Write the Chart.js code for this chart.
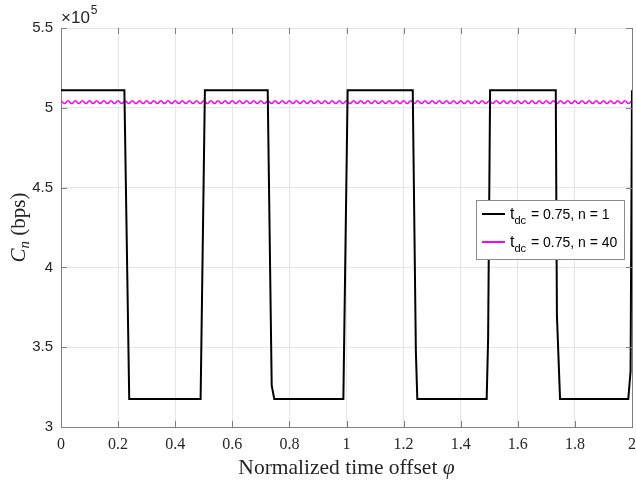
<!DOCTYPE html>
<html>
<head>
<meta charset="utf-8">
<script src="https://cdn.jsdelivr.net/npm/chart.js@4.4.0/dist/chart.umd.min.js"></script>
<style>
  html, body { margin: 0; padding: 0; background: #fff; }
  #wrap { width: 636px; height: 484px; position: relative; }
</style>
</head>
<body>
<div id="wrap"><canvas id="c"></canvas></div>
<script>
// capacity Cn vs normalized time offset phi
const blackPhi = [0, 0.222, 0.239, 0.489, 0.504, 0.724, 0.738, 0.747, 0.989, 1.004,
    1.232, 1.243, 1.248, 1.491, 1.496, 1.503, 1.733, 1.737, 1.748, 1.987, 1.995, 2.0];
const blackRate = [511000, 511000, 317500, 317500, 511000, 511000, 326000, 317500, 317500, 511000,
    511000, 347000, 317500, 317500, 355000, 511000, 511000, 370000, 317500, 317500, 335000, 511000];

// n = 40 curve, sampled at its peaks and troughs
const magentaStep = 0.0125;
const magentaRate = [
    504400, 502700, 504400, 502700, 504400, 502700, 504400, 502700, 504400, 502700,
    504400, 502700, 504400, 502700, 504400, 502700, 504400, 502700, 504400, 502700,
    504400, 502700, 504400, 502700, 504400, 502700, 504400, 502700, 504400, 502700,
    504400, 502700, 504400, 502700, 504400, 502700, 504400, 502700, 504400, 502700,
    504400, 502700, 504400, 502700, 504400, 502700, 504400, 502700, 504400, 502700,
    504400, 502700, 504400, 502700, 504400, 502700, 504400, 502700, 504400, 502700,
    504400, 502700, 504400, 502700, 504400, 502700, 504400, 502700, 504400, 502700,
    504400, 502700, 504400, 502700, 504400, 502700, 504400, 502700, 504400, 502700,
    504400, 502700, 504400, 502700, 504400, 502700, 504400, 502700, 504400, 502700,
    504400, 502700, 504400, 502700, 504400, 502700, 504400, 502700, 504400, 502700,
    504400, 502700, 504400, 502700, 504400, 502700, 504400, 502700, 504400, 502700,
    504400, 502700, 504400, 502700, 504400, 502700, 504400, 502700, 504400, 502700,
    504400, 502700, 504400, 502700, 504400, 502700, 504400, 502700, 504400, 502700,
    504400, 502700, 504400, 502700, 504400, 502700, 504400, 502700, 504400, 502700,
    504400, 502700, 504400, 502700, 504400, 502700, 504400, 502700, 504400, 502700,
    504400, 502700, 504400, 502700, 504400, 502700, 504400, 502700, 504400, 502700,
    504400
];

const legendLabels = [['t', 'dc', ' = 0.75, n = 1'], ['t', 'dc', ' = 0.75, n = 40']];
const xTitle = 'Normalized time offset ';
const yTitle = ['C', 'n', ' (bps)'];

const blackPts = blackPhi.map((p, i) => ({ x: p, y: blackRate[i] }));
const magentaPts = magentaRate.map((v, i) => ({ x: i * magentaStep, y: v }));

const axisGrey = '#7f7f7f';
const textDark = '#262626';
const serif = '"Liberation Serif", "DejaVu Serif", serif';
const sans = '"Liberation Sans", Arial, sans-serif';

// inner tick marks, right border, axis exponent, titles and legend
const decorations = {
    id: 'decorations',
    afterDraw(chart) {
        const ctx = chart.ctx;
        const a = chart.chartArea;
        const xs = chart.scales.x, ys = chart.scales.y;
        ctx.save();
        ctx.strokeStyle = axisGrey;
        ctx.lineWidth = 1;
        ctx.beginPath();
        ctx.moveTo(a.right + 0.5, a.top);
        ctx.lineTo(a.right + 0.5, a.bottom);
        xs.ticks.forEach(t => {
            const px = Math.round(xs.getPixelForValue(t.value)) + 0.5;
            ctx.moveTo(px, a.bottom); ctx.lineTo(px, a.bottom - 6);
            ctx.moveTo(px, a.top); ctx.lineTo(px, a.top + 6);
        });
        ys.ticks.forEach(t => {
            const py = Math.round(ys.getPixelForValue(t.value)) + 0.5;
            ctx.moveTo(a.left, py); ctx.lineTo(a.left + 6, py);
            ctx.moveTo(a.right, py); ctx.lineTo(a.right - 6, py);
        });
        ctx.stroke();

        // x10^5
        ctx.fillStyle = textDark;
        ctx.textBaseline = 'alphabetic';
        ctx.textAlign = 'left';
        ctx.font = '17px ' + sans;
        ctx.fillText('\u00d710', a.left, 23);
        const w10 = ctx.measureText('\u00d710').width;
        ctx.font = '12px ' + sans;
        ctx.fillText('5', a.left + w10 + 1, 14);

        // x title
        ctx.font = '21.5px ' + serif;
        const wx = ctx.measureText(xTitle).width;
        ctx.font = 'italic 21.5px ' + serif;
        const wphi = ctx.measureText('\u03c6').width;
        const sx = (a.left + a.right) / 2 - (wx + wphi) / 2;
        ctx.font = '21.5px ' + serif;
        ctx.fillText(xTitle, sx, 474);
        ctx.font = 'italic 21.5px ' + serif;
        ctx.fillText('\u03c6', sx + wx, 474);

        // y title
        ctx.save();
        ctx.translate(25, (a.top + a.bottom) / 2);
        ctx.rotate(-Math.PI / 2);
        ctx.font = 'italic 21px ' + serif;
        const wC = ctx.measureText(yTitle[0]).width;
        ctx.font = 'italic 15px ' + serif;
        const wn = ctx.measureText(yTitle[1]).width;
        ctx.font = '21px ' + serif;
        const wb = ctx.measureText(yTitle[2]).width;
        const ty = -(wC + wn + wb) / 2;
        ctx.font = 'italic 21px ' + serif;
        ctx.fillText(yTitle[0], ty, 0);
        ctx.font = 'italic 15px ' + serif;
        ctx.fillText(yTitle[1], ty + wC, 4);
        ctx.font = '21px ' + serif;
        ctx.fillText(yTitle[2], ty + wC + wn, 0);
        ctx.restore();

        // legend
        const bx = 476.5, by = 200.5, bw = 148, bh = 59;
        ctx.fillStyle = '#fff';
        ctx.fillRect(bx, by, bw, bh);
        ctx.strokeStyle = '#8c8c8c';
        ctx.lineWidth = 1;
        ctx.strokeRect(bx, by, bw, bh);
        chart.data.datasets.forEach((ds, i) => {
            const ly = 214 + i * 28;
            ctx.strokeStyle = ds.borderColor;
            ctx.lineWidth = 2;
            ctx.beginPath();
            ctx.moveTo(482, ly); ctx.lineTo(505, ly);
            ctx.stroke();
            const lab = legendLabels[i];
            ctx.fillStyle = '#000';
            ctx.font = '16px ' + sans;
            ctx.fillText(lab[0], 510, ly + 5);
            const wt = ctx.measureText(lab[0]).width;
            ctx.font = '11px ' + sans;
            ctx.fillText(lab[1], 510 + wt, ly + 10);
            const wd = ctx.measureText(lab[1]).width;
            ctx.font = '14px ' + sans;
            ctx.fillText(lab[2], 511 + wt + wd, ly + 5);
        });
        ctx.restore();
    }
};

new Chart(document.getElementById('c'), {
    type: 'line',
    data: {
        datasets: [
            {
                label: 'n = 1',
                data: blackPts,
                borderColor: '#000000',
                borderWidth: 2,
                pointRadius: 0,
                tension: 0
            },
            {
                label: 'n = 40',
                data: magentaPts,
                borderColor: '#ff00ff',
                borderWidth: 1.6,
                pointRadius: 0,
                tension: 0.4
            }
        ]
    },
    options: {
        responsive: true,
        maintainAspectRatio: false,
        animation: false,
        events: [],
        layout: { padding: { left: 0, right: 4, top: 28, bottom: 0 } },
        plugins: { legend: { display: false }, tooltip: { enabled: false } },
        scales: {
            x: {
                type: 'linear',
                min: 0,
                max: 2,
                afterFit: s => { s.height = 57; s.paddingLeft = 0; s.paddingRight = 0; },
                ticks: {
                    stepSize: 0.2,
                    color: textDark,
                    padding: 8,
                    maxRotation: 0,
                    font: { family: serif, size: 16 },
                    callback: v => String(Math.round(v * 10) / 10)
                },
                grid: { color: '#e5e5e5', drawTicks: false },
                border: { color: axisGrey, width: 1 }
            },
            y: {
                min: 300000,
                max: 550000,
                afterFit: s => { s.width = 61; s.paddingTop = 0; s.paddingBottom = 0; },
                ticks: {
                    stepSize: 50000,
                    color: textDark,
                    padding: 8,
                    font: { family: sans, size: 15 },
                    callback: v => String(Math.round(v / 10000) / 10)
                },
                grid: { color: '#e5e5e5', drawTicks: false },
                border: { color: axisGrey, width: 1 }
            }
        }
    },
    plugins: [decorations]
});
</script>
</body>
</html>
